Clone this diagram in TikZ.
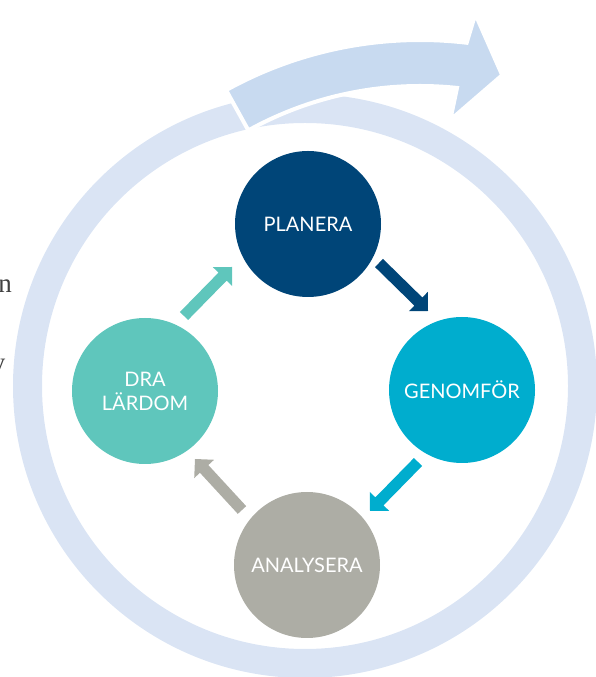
\documentclass[tikz,border=0pt]{standalone}
\usepackage{fontspec}
\usetikzlibrary{calc}
\newfontfamily\labfont{Lato}
\newfontfamily\fragfont{Liberation Serif}
\definecolor{planc}{HTML}{004578}
\definecolor{genc}{HTML}{00ADCE}
\definecolor{anac}{HTML}{ADADA5}
\definecolor{drac}{HTML}{5FC6BC}
\definecolor{ringc}{HTML}{DAE4F4}
\definecolor{arrc}{HTML}{C8DAF0}
\definecolor{fragc}{HTML}{404040}
\tikzset{
  stage/.style={circle, minimum size=146pt, inner sep=0pt, text=white,
    font=\labfont\fontsize{20}{24}\selectfont, align=center},
  bigarrow/.style={fill=arrc, draw=white, line width=4pt, line join=miter},
  frag/.style={anchor=base east, inner sep=0pt, text=fragc, font=\fragfont\fontsize{27}{30}\selectfont},
}
\newcommand{\blockarrow}[3]{%
  \coordinate (ba) at ($(#2)!13.5pt!(#1)$);
  \fill[#3] ($(#1)!5.7pt!90:(#2)$) -- ($(ba)!5.7pt!90:(#2)$) -- ($(ba)!13.5pt!90:(#2)$) -- (#2)
    -- ($(ba)!13.5pt!-90:(#2)$) -- ($(ba)!5.7pt!-90:(#2)$) -- ($(#1)!5.7pt!-90:(#2)$) -- cycle;}
\begin{document}
\begin{tikzpicture}[x=1pt, y=1pt]
\useasboundingbox (0,0) rectangle (596,677);
% text fragments at the left edge
\node[frag] (fn) at (12,384) {n};
\node[frag] (fy) at (5.5,305) {y};
% big ring
\fill[ringc, even odd rule] (305,291) circle[radius=292pt] (305,291) circle[radius=263pt];
% big curved arrow
\begin{scope}[shift={(420,237)}]
\path[bigarrow] (119:400) arc[start angle=119, end angle=83.3, radius=400]
  -- (82.6:429.5) -- (77.3:374) -- (84.6:321.4) -- (84:354)
  arc[start angle=84, end angle=119, radius=354] -- cycle;
\end{scope}
% stages
\node[stage, fill=planc] (plan) at (308,453) {PLANERA};
\node[stage, fill=genc] (gen) at (462,287) {GENOMFÖR};
\node[stage, fill=anac] (ana) at (307,112) {ANALYSERA};
\node[stage, fill=drac] (dra) at (145,286) {DRA\\LÄRDOM};
% arrow end points
\coordinate (a1s) at (379,414); \coordinate (a1t) at (428,366);
\coordinate (a2s) at (418,215); \coordinate (a2t) at (370,166);
\coordinate (a3s) at (242,167); \coordinate (a3t) at (195,218);
\coordinate (a4s) at (184,361); \coordinate (a4t) at (232,410);
\blockarrow{a1s}{a1t}{planc}
\blockarrow{a2s}{a2t}{genc}
\blockarrow{a3s}{a3t}{anac}
\blockarrow{a4s}{a4t}{drac}
\end{tikzpicture}
\end{document}
